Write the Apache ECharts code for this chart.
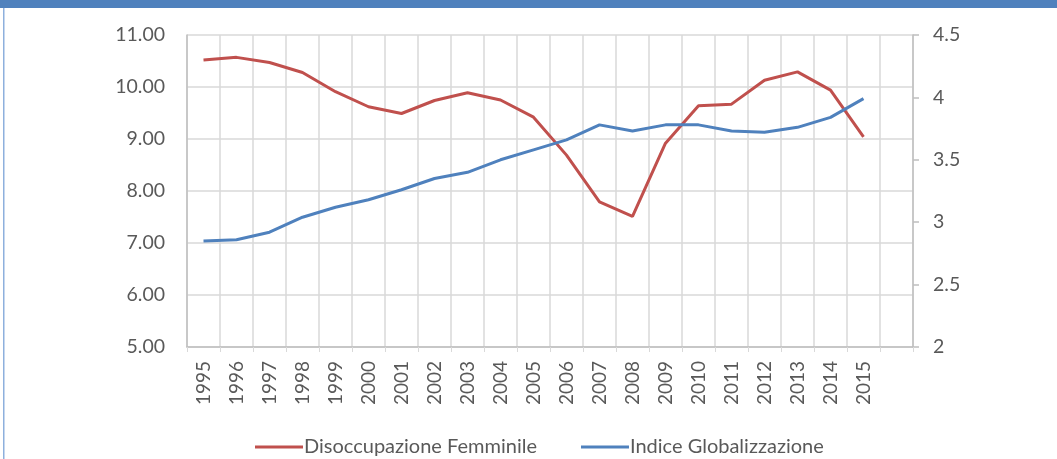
<!DOCTYPE html>
<html>
<head>
<meta charset="utf-8">
<script src="https://cdn.jsdelivr.net/npm/echarts@6/dist/echarts.min.js"></script>
<style>
html,body{margin:0;padding:0;background:#fff;}
#c{width:1057px;height:459px;}
</style>
</head>
<body>
<div id="c"></div>
<script>
var years = ['1995','1996','1997','1998','1999','2000','2001','2002','2003','2004','2005','2006','2007','2008','2009','2010','2011','2012','2013','2014','2015'];
var disoccupazione = [10.52,10.57,10.47,10.28,9.91,9.62,9.49,9.74,9.89,9.75,9.42,8.69,7.79,7.51,8.92,9.64,9.67,10.13,10.29,9.94,9.04];
var globalizzazione = [2.85,2.86,2.92,3.04,3.12,3.18,3.26,3.35,3.40,3.50,3.58,3.66,3.78,3.73,3.78,3.78,3.73,3.72,3.76,3.84,3.99];
var categories = years.concat(['']);
var font = 'Lato, "Open Sans", sans-serif';
var chart = echarts.init(document.getElementById('c'));
chart.setOption({
  backgroundColor: '#fff',
  animation: false,
  graphic: [
    {type:'rect', shape:{x:0,y:0,width:1057,height:8}, style:{fill:'#4f81bd'}},
    {type:'rect', shape:{x:3,y:8,width:1.5,height:451}, style:{fill:'#8eb0dd'}}
  ],
  grid: {left:187, right:144, top:35, bottom:112, containLabel:false},
  legend: {
    top: 432, left: 250,
    icon: 'rect', itemWidth: 48, itemHeight: 3, itemGap: 44,
    textStyle: {fontFamily: font, fontSize: 20, color:'#595959', padding:[0,0,0,-4]},
    data: ['Disoccupazione Femminile','Indice Globalizzazione']
  },
  xAxis: {
    type:'category', data: categories, boundaryGap: true,
    axisLine:{show:true, lineStyle:{color:'#bfbfbf', width:1.5}},
    axisTick:{show:true, alignWithLabel:false, length:5, lineStyle:{color:'#d9d9d9'}},
    splitLine:{show:true, lineStyle:{color:'#d9d9d9', width:1.5}},
    axisLabel:{rotate:90, interval:0, margin:14, fontFamily:font, fontSize:19, color:'#595959'}
  },
  yAxis: [
    {type:'value', min:5, max:11, interval:1, position:'left',
     axisLine:{show:true, lineStyle:{color:'#bfbfbf', width:1.5}},
     axisTick:{show:false},
     splitLine:{show:true, lineStyle:{color:'#d9d9d9', width:1.5}},
     axisLabel:{margin:22, fontFamily:font, fontSize:19.5, color:'#595959', formatter:function(v){return v.toFixed(2);}}},
    {type:'value', min:2, max:4.5, interval:0.5, position:'right',
     axisLine:{show:true, lineStyle:{color:'#bfbfbf', width:1.5}},
     axisTick:{show:true, inside:false, length:6, lineStyle:{color:'#bfbfbf', width:1.5}},
     splitLine:{show:false},
     axisLabel:{margin:20, fontFamily:font, fontSize:19.5, color:'#595959', formatter:function(v){return String(v);}}}
  ],
  series: [
    {name:'Disoccupazione Femminile', type:'line', yAxisIndex:0, data:disoccupazione,
     showSymbol:false, symbol:'none', lineStyle:{color:'#c0504d', width:3}, itemStyle:{color:'#c0504d'}},
    {name:'Indice Globalizzazione', type:'line', yAxisIndex:1, data:globalizzazione,
     showSymbol:false, symbol:'none', lineStyle:{color:'#4f81bd', width:3}, itemStyle:{color:'#4f81bd'}}
  ]
});
</script>
</body>
</html>
